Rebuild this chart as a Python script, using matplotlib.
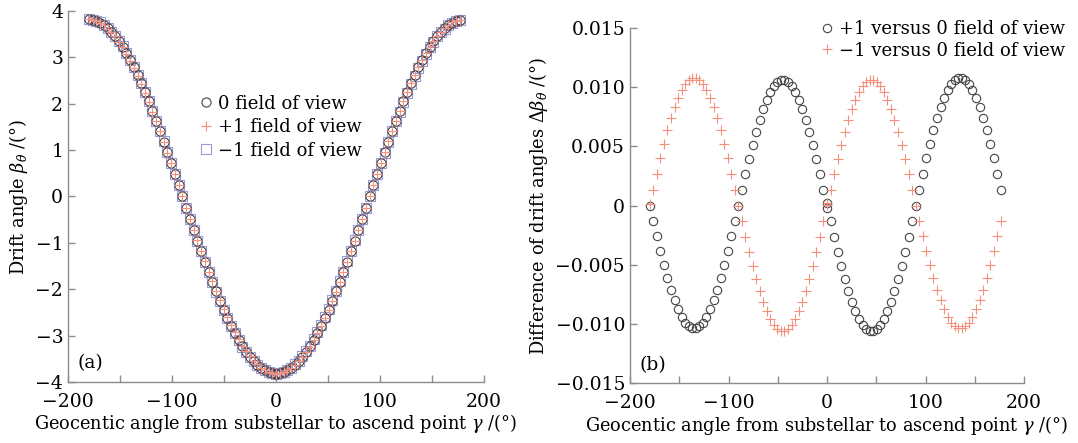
import matplotlib
matplotlib.use('Agg')
import matplotlib.pyplot as plt
import numpy as np
from matplotlib.ticker import MultipleLocator, FixedLocator, FixedFormatter

plt.rcParams['font.family'] = ['DejaVu Serif']
plt.rcParams['mathtext.fontset'] = 'dejavuserif'
plt.rcParams['font.size'] = 13.5

# geocentric angle: -180..0 then 0..176.4, step 3.6 deg (0 appears twice)
gamma = np.concatenate([np.arange(-180, 0.1, 3.6), np.arange(0, 177, 3.6)])

# drift angle of the 0 field of view, deg
beta_0 = [3.82, 3.81, 3.79, 3.75, 3.70, 3.63, 3.55, 3.46, 3.35, 3.23,
          3.09, 2.94, 2.79, 2.62, 2.44, 2.25, 2.05, 1.84, 1.63, 1.41,
          1.18, 0.95, 0.72, 0.48, 0.24, 0.00, -0.24, -0.48, -0.72, -0.95,
          -1.18, -1.41, -1.63, -1.84, -2.05, -2.25, -2.44, -2.62, -2.79, -2.94,
          -3.09, -3.23, -3.35, -3.46, -3.55, -3.63, -3.70, -3.75, -3.79, -3.81,
          -3.82,
          -3.82, -3.81, -3.79, -3.75, -3.70, -3.63, -3.55, -3.46, -3.35, -3.23,
          -3.09, -2.94, -2.79, -2.62, -2.44, -2.25, -2.05, -1.84, -1.63, -1.41,
          -1.18, -0.95, -0.72, -0.48, -0.24, 0.00, 0.24, 0.48, 0.72, 0.95,
          1.18, 1.41, 1.63, 1.84, 2.05, 2.25, 2.44, 2.62, 2.79, 2.94,
          3.09, 3.23, 3.35, 3.46, 3.55, 3.63, 3.70, 3.75, 3.79, 3.81]

# +1 versus 0 field of view, 1e-3 deg
diff_p1 = [0.00, -1.30, -2.59, -3.83, -5.01, -6.11, -7.12, -8.01, -8.78, -9.41,
           -9.89, -10.22, -10.38, -10.38, -10.22, -9.89, -9.41, -8.78, -8.01, -7.12,
           -6.11, -5.01, -3.83, -2.59, -1.30, 0.00,
           1.33, 2.64, 3.90, 5.11, 6.23, 7.26, 8.17, 8.95, 9.59, 10.08,
           10.41, 10.58, 10.58, 10.41, 10.08, 9.59, 8.95, 8.17, 7.26, 6.23,
           5.11, 3.90, 2.64, 1.33, 0.20,
           -0.20, -1.33, -2.64, -3.90, -5.11, -6.23, -7.26, -8.17, -8.95, -9.59,
           -10.08, -10.41, -10.58, -10.58, -10.41, -10.08, -9.59, -8.95, -8.17, -7.26,
           -6.23, -5.11, -3.90, -2.64, -1.33, 0.00,
           1.35, 2.69, 3.98, 5.20, 6.35, 7.39, 8.32, 9.12, 9.77, 10.27,
           10.61, 10.78, 10.78, 10.61, 10.27, 9.77, 9.12, 8.32, 7.39, 6.35,
           5.20, 3.98, 2.69, 1.35]

# -1 versus 0 field of view, 1e-3 deg
diff_m1 = [0.10, 1.35, 2.69, 3.98, 5.20, 6.35, 7.39, 8.32, 9.12, 9.77,
           10.27, 10.61, 10.78, 10.78, 10.61, 10.27, 9.77, 9.12, 8.32, 7.39,
           6.35, 5.20, 3.98, 2.69, 1.35, 0.00,
           -1.33, -2.64, -3.90, -5.11, -6.23, -7.26, -8.17, -8.95, -9.59, -10.08,
           -10.41, -10.58, -10.58, -10.41, -10.08, -9.59, -8.95, -8.17, -7.26, -6.23,
           -5.11, -3.90, -2.64, -1.33, 0.25,
           0.05, 1.33, 2.64, 3.90, 5.11, 6.23, 7.26, 8.17, 8.95, 9.59,
           10.08, 10.41, 10.58, 10.58, 10.41, 10.08, 9.59, 8.95, 8.17, 7.26,
           6.23, 5.11, 3.90, 2.64, 1.33, 0.00,
           -1.30, -2.59, -3.83, -5.01, -6.11, -7.12, -8.01, -8.78, -9.41, -9.89,
           -10.22, -10.38, -10.38, -10.22, -9.89, -9.41, -8.78, -8.01, -7.12, -6.11,
           -5.01, -3.83, -2.59, -1.30]

beta_0 = np.array(beta_0)
diff_p1 = np.array(diff_p1) * 1e-3
diff_m1 = np.array(diff_m1) * 1e-3
beta_p1 = beta_0 + diff_p1
beta_m1 = beta_0 + diff_m1

xticks = [-200, -100, 0, 100, 200]
xtick_labels = ['\u2212200', '\u2212100', '0', '100', '200']
yticks_b = [-0.015, -0.010, -0.005, 0, 0.005, 0.010, 0.015]
ytick_labels_b = ['\u22120.015', '\u22120.010', '\u22120.005', '0', '0.005', '0.010', '0.015']

c_circle = '#454545'
c_plus = '#f4907c'
c_square = '#9a9ad8'
c_spine = '#8c8c8c'
label_size = 12.8
legend_size = 13

fig = plt.figure(figsize=(10.78, 4.43), dpi=100)
ax1 = fig.add_axes([0.0631, 0.138, 0.386, 0.837])
ax2 = fig.add_axes([0.5844, 0.1354, 0.3656, 0.8014])


def style_axes(ax):
    for s in ['top', 'right']:
        ax.spines[s].set_visible(False)
    for s in ['left', 'bottom']:
        ax.spines[s].set_color(c_spine)
        ax.spines[s].set_linewidth(1.0)
    ax.tick_params(which='both', direction='in', length=5, color=c_spine, width=1.0)
    ax.tick_params(axis='x', pad=8)
    ax.set_xlim(-200, 200)
    ax.xaxis.set_major_locator(FixedLocator(xticks))
    ax.xaxis.set_major_formatter(FixedFormatter(xtick_labels))
    ax.xaxis.set_minor_locator(MultipleLocator(50))


# (a) drift angle
ax1.plot(gamma, beta_m1, ls='none', marker='s', ms=7.2, mfc='none', mec=c_square, mew=0.8,
         label='\u22121 field of view', zorder=1)
ax1.plot(gamma, beta_0, ls='none', marker='o', ms=6.6, mfc='none', mec=c_circle, mew=0.8,
         label='0 field of view', zorder=2)
ax1.plot(gamma, beta_p1, ls='none', marker='+', ms=6.5, mec=c_plus, mew=0.8,
         label='+1 field of view', zorder=3)
style_axes(ax1)
ax1.set_ylim(-4, 4)
ax1.yaxis.set_major_locator(MultipleLocator(1))
ax1.yaxis.set_major_formatter(plt.FuncFormatter(lambda v, p: f'{v:.0f}'.replace('-', '\u2212')))
ax1.set_xlabel(r'Geocentic angle from substellar to ascend point $\gamma$ /(°)',
               fontsize=label_size, labelpad=1)
ax1.set_ylabel(r'Drift angle $\beta_\theta$ /(°)', fontsize=label_size, labelpad=4)
ax1.text(0.022, 0.05, '(a)', transform=ax1.transAxes, va='center', ha='left')
h, l = ax1.get_legend_handles_labels()
order = [1, 2, 0]
ax1.legend([h[i] for i in order], [l[i] for i in order], loc='center left',
           bbox_to_anchor=(0.186, 0.713), bbox_transform=fig.transFigure, frameon=False,
           fontsize=legend_size, handlelength=0.6, handletextpad=0.35, labelspacing=0.3,
           borderpad=0, borderaxespad=0)

# (b) difference of drift angles
ax2.plot(gamma, diff_p1, ls='none', marker='o', ms=6.0, mfc='none', mec=c_circle, mew=0.8,
         label='+1 versus 0 field of view')
ax2.plot(gamma, diff_m1, ls='none', marker='+', ms=6.5, mec=c_plus, mew=0.8,
         label='\u22121 versus 0 field of view')
style_axes(ax2)
ax2.set_ylim(-0.015, 0.015)
ax2.yaxis.set_major_locator(FixedLocator(yticks_b))
ax2.yaxis.set_major_formatter(FixedFormatter(ytick_labels_b))
ax2.set_xlabel(r'Geocentic angle from substellar to ascend point $\gamma$ /(°)',
               fontsize=label_size, labelpad=1)
ax2.set_ylabel(r'Difference of drift angles $\Delta\beta_\theta$ /(°)',
               fontsize=label_size, labelpad=4)
ax2.text(0.025, 0.05, '(b)', transform=ax2.transAxes, va='center', ha='left')
ax2.legend(loc='upper right', bbox_to_anchor=(0.988, 0.955), bbox_transform=fig.transFigure,
           frameon=False, fontsize=legend_size, handlelength=0.6, handletextpad=0.35,
           labelspacing=0.2, borderpad=0, borderaxespad=0)

fig.savefig('out.png', dpi=100)
